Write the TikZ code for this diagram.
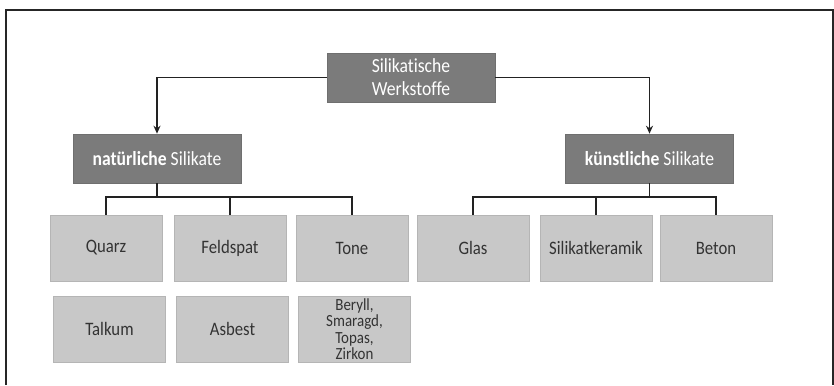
\documentclass[tikz,border=0pt]{standalone}
\usepackage{fontspec}
\setmainfont{Carlito}[FakeStretch=0.88, Ligatures={NoCommon}]
\usetikzlibrary{arrows.meta}
\definecolor{darkbox}{HTML}{7B7B7B}
\definecolor{lightbox}{HTML}{C8C8C8}
\definecolor{lightedge}{HTML}{B5B5B5}
\definecolor{txt}{HTML}{333333}
\definecolor{lineclr}{HTML}{222222}
\tikzset{
  headbox/.style={draw=darkbox!90!black, line width=0.6pt, fill=darkbox, text=white, minimum width=168pt, minimum height=49pt, inner sep=0pt, align=center, font=\fontsize{20}{23}\selectfont},
  leafbox/.style={draw=lightedge, line width=0.6pt, fill=lightbox, text=txt, minimum width=112pt, minimum height=66pt, inner sep=0pt, align=center, font=\fontsize{19}{22}\selectfont},
  conn/.style={draw=lineclr, line width=1.8pt},
  arr/.style={conn, -{Stealth[length=8pt,width=7pt]}}
}
\begin{document}
\begin{tikzpicture}[x=1pt,y=-1pt]
\useasboundingbox (0,0) rectangle (834,385);
\draw[line width=1.3pt, black!85] (6,385) -- (6,10) -- (833,10) -- (833,385);

\node[headbox] (top) at (411,77.5) {Silikatische\\Werkstoffe};
\node[headbox] (nat) at (157,158.5) {\textbf{natürliche} Silikate};
\node[headbox] (kun) at (649.5,158.5) {\textbf{künstliche} Silikate};

\node[leafbox] (quarz) at (106,248) {Quarz};
\node[leafbox] (feld) at (230,248) {Feldspat};
\node[leafbox] (tone) at (352,248) {Tone};
\node[leafbox] (glas) at (473,248) {Glas};
\node[leafbox] (sk) at (596,248) {Silikatkeramik};
\node[leafbox] (beton) at (716,248) {Beton};

\node[leafbox] (talkum) at (109.5,329) {Talkum};
\node[leafbox] (asbest) at (232.5,329) {Asbest};
\node[leafbox, font=\fontsize{17}{16.5}\selectfont] (beryll) at (354.5,329) {Beryll,\\Smaragd,\\Topas,\\Zirkon};

\draw[arr] (top.west) -| (nat.north);
\draw[arr] (top.east) -| (kun.north);

\coordinate (nj) at (157,197);
\coordinate (kj) at (649.5,197);
\draw[conn] (nat.south) -- (nj);
\draw[conn] (kj) -- (kun.south);
\draw[conn] (nj) -| (quarz.north);
\draw[conn] (nj) -| (feld.north);
\draw[conn] (nj) -| (tone.north);
\draw[conn] (kj) -| (glas.north);
\draw[conn] (kj) -| (sk.north);
\draw[conn] (kj) -| (beton.north);
\end{tikzpicture}
\end{document}
